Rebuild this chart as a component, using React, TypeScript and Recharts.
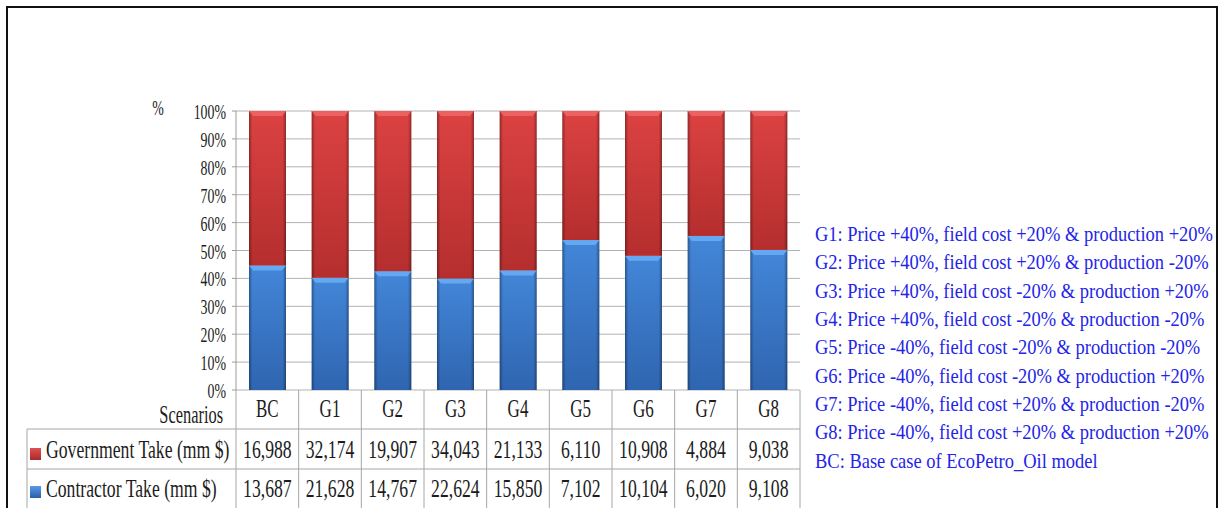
import React from "react"
import { BarChart, Bar, XAxis, YAxis, CartesianGrid } from "recharts"

const scenarios = ["BC", "G1", "G2", "G3", "G4", "G5", "G6", "G7", "G8"]
const governmentTake = [16988, 32174, 19907, 34043, 21133, 6110, 10908, 4884, 9038]
const contractorTake = [13687, 21628, 14767, 22624, 15850, 7102, 10104, 6020, 9108]
const yTicks = [0, 0.1, 0.2, 0.3, 0.4, 0.5, 0.6, 0.7, 0.8, 0.9, 1]
const scenarioNotes = [
  "G1: Price +40%, field cost +20% & production +20%",
  "G2: Price +40%, field cost +20% & production -20%",
  "G3: Price +40%, field cost -20% & production +20%",
  "G4: Price +40%, field cost -20% & production -20%",
  "G5: Price -40%, field cost -20% & production -20%",
  "G6: Price -40%, field cost -20% & production +20%",
  "G7: Price -40%, field cost +20% & production -20%",
  "G8: Price -40%, field cost +20% & production +20%",
  "BC: Base case of EcoPetro_Oil model",
]

const data = scenarios.map((name, i) => ({
  name,
  government: governmentTake[i],
  contractor: contractorTake[i],
}))

const W = 1221
const H = 508
const PLOT_LEFT = 236
const PLOT_RIGHT = 800
const BAND = (PLOT_RIGHT - PLOT_LEFT) / scenarios.length
const FONT = "Liberation Serif"
const LINE = "#a6a6a6"
const INK = "#1c1c1c"

const fmt = (v: number) => v.toLocaleString("en-US")

// condensed serif text (the source is squeezed horizontally)
const SText = ({ x, y, size = 26, sx = 0.68, anchor = "middle", fill = INK, children }: any) => (
  <text
    transform={`translate(${x} ${y}) scale(${sx} 1)`}
    textAnchor={anchor}
    fill={fill}
    style={{ fontFamily: FONT, fontSize: size }}
  >
    {children}
  </text>
)

const makeShape = (grad: string, bevel: string) => (p: any) => {
  const { x, y, width: w, height: h } = p
  if (!h || h <= 0) return <g />
  return (
    <g>
      <rect x={x} y={y} width={w} height={h} fill={`url(#${grad})`} />
      <rect x={x} y={y} width={w} height={h} fill="url(#edgeShade)" />
      <polygon
        points={`${x},${y} ${x + w},${y} ${x + w - 4},${y + 5} ${x + 4},${y + 5}`}
        fill={bevel}
      />
    </g>
  )
}

const YTick = ({ x, y, payload }: any) => (
  <SText x={x} y={y + 8} size={21} sx={0.66} anchor="end">
    {`${Math.round(payload.value * 100)}%`}
  </SText>
)

const TableTick = ({ x, y, index }: any) => {
  const left = x - BAND / 2
  const right = x + BAND / 2
  const bottom = H + 5
  return (
    <g>
      <line x1={left} y1={y} x2={left} y2={bottom} stroke={LINE} />
      {index === scenarios.length - 1 && (
        <line x1={right} y1={y} x2={right} y2={bottom} stroke={LINE} />
      )}
      <line x1={left} y1={y + 39} x2={right} y2={y + 39} stroke={LINE} />
      <line x1={left} y1={y + 79} x2={right} y2={y + 79} stroke={LINE} />
      <SText x={x} y={y + 27} size={25}>{scenarios[index]}</SText>
      <SText x={x} y={y + 68}>{fmt(governmentTake[index])}</SText>
      <SText x={x} y={y + 107}>{fmt(contractorTake[index])}</SText>
      {index === 0 && (
        <g>
          <SText x={223} y={y + 33} size={26} sx={0.63} anchor="end">Scenarios</SText>
          <line x1={27} y1={y + 39} x2={left} y2={y + 39} stroke={LINE} />
          <line x1={27} y1={y + 79} x2={left} y2={y + 79} stroke={LINE} />
          <line x1={27} y1={y + 39} x2={27} y2={bottom} stroke={LINE} />
          <rect x={30} y={y + 58} width={11} height={12} fill="url(#redIcon)" />
          <rect x={30} y={y + 96} width={11} height={12} fill="url(#blueIcon)" />
          <SText x={46} y={y + 68} anchor="start">Government Take (mm $)</SText>
          <SText x={46} y={y + 107} anchor="start">Contractor Take (mm $)</SText>
        </g>
      )}
    </g>
  )
}

export default function App() {
  return (
    <div style={{ position: "absolute", left: 0, top: 0, width: W, height: H, background: "#fff", overflow: "hidden", fontFamily: FONT }}>
      <BarChart
        width={W}
        height={H}
        data={data}
        stackOffset="expand"
        margin={{ top: 111, right: W - PLOT_RIGHT, bottom: 0, left: 0 }}
      >
        <defs>
          <linearGradient id="redBody" x1="0" y1="0" x2="0" y2="1">
            <stop offset="0%" stopColor="#dc4242" />
            <stop offset="100%" stopColor="#b52e2e" />
          </linearGradient>
          <linearGradient id="blueBody" x1="0" y1="0" x2="0" y2="1">
            <stop offset="0%" stopColor="#4386d8" />
            <stop offset="100%" stopColor="#2f65b0" />
          </linearGradient>
          <linearGradient id="edgeShade" x1="0" y1="0" x2="1" y2="0">
            <stop offset="0%" stopColor="#000" stopOpacity={0.35} />
            <stop offset="9%" stopColor="#000" stopOpacity={0} />
            <stop offset="91%" stopColor="#000" stopOpacity={0} />
            <stop offset="100%" stopColor="#000" stopOpacity={0.35} />
          </linearGradient>
          <linearGradient id="redIcon" x1="0" y1="0" x2="0" y2="1">
            <stop offset="0%" stopColor="#e05050" />
            <stop offset="100%" stopColor="#a82a2a" />
          </linearGradient>
          <linearGradient id="blueIcon" x1="0" y1="0" x2="0" y2="1">
            <stop offset="0%" stopColor="#5a9ae8" />
            <stop offset="100%" stopColor="#2c5ea8" />
          </linearGradient>
        </defs>
        <CartesianGrid vertical={false} stroke="#b3b3b3" />
        <XAxis
          dataKey="name"
          height={H - 390}
          axisLine={false}
          tickLine={false}
          tickSize={0}
          tickMargin={0}
          interval={0}
          tick={(p: any) => <TableTick {...p} />}
        />
        <YAxis
          width={PLOT_LEFT}
          domain={[0, 1]}
          ticks={yTicks}
          interval={0}
          axisLine={{ stroke: "#9a9a9a" }}
          tickLine={{ stroke: "#9a9a9a" }}
          tickSize={4}
          tickMargin={6}
          tick={(p: any) => <YTick {...p} />}
        />
        <Bar
          dataKey="contractor"
          stackId="take"
          barSize={37}
          isAnimationActive={false}
          shape={makeShape("blueBody", "#64a8f2")}
        />
        <Bar
          dataKey="government"
          stackId="take"
          barSize={37}
          isAnimationActive={false}
          shape={makeShape("redBody", "#ec6262")}
        />
      </BarChart>

      <svg width={W} height={H} style={{ position: "absolute", left: 0, top: 0, pointerEvents: "none" }}>
        <SText x={158} y={115} size={21} sx={0.66}>%</SText>
        {scenarioNotes.map((note, i) => (
          <SText key={note} x={815} y={241 + i * 28.33} size={21} sx={0.88} anchor="start" fill="#2424e8">
            {note}
          </SText>
        ))}
      </svg>
      <div
        style={{
          position: "absolute",
          left: 6,
          top: 6,
          width: 1212,
          height: 520,
          boxSizing: "border-box",
          border: "2px solid #111",
          borderBottom: "none",
        }}
      />
    </div>
  )
}
